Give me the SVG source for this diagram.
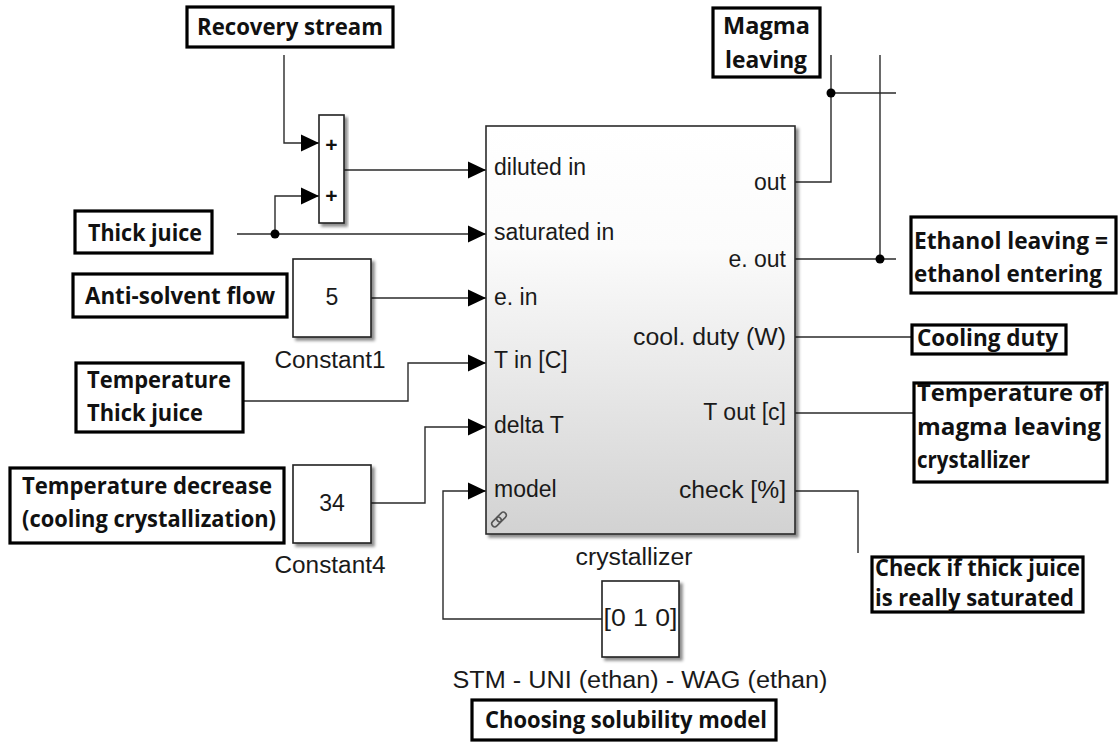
<svg xmlns="http://www.w3.org/2000/svg" width="1118" height="742" viewBox="0 0 1118 742">
<style>
.lbl{fill:#fff;stroke:#000;stroke-width:3.2}
.lt{font-family:"Open Sans","Noto Sans",sans-serif;font-weight:bold;font-size:23px;fill:#111}
.sb{fill:#fff;stroke:#222;stroke-width:1.6}
.st{font-family:"Liberation Sans",Arial,sans-serif;font-size:23px;fill:#1a1a1a}
.wire{fill:none;stroke:#2a2a2a;stroke-width:1.4}
.arr{marker-end:url(#ah)}
</style>
<defs>
<marker id="ah" markerUnits="userSpaceOnUse" markerWidth="18" markerHeight="18" refX="18" refY="9" orient="auto">
<path d="M0,0.5 L18,9 L0,17.5 z" fill="#000"/>
</marker>
<linearGradient id="grad" x1="0" y1="0" x2="0" y2="1">
<stop offset="0" stop-color="#ffffff"/>
<stop offset="0.3" stop-color="#fbfbfb"/>
<stop offset="1" stop-color="#d2d2d2"/>
</linearGradient>
<filter id="sh" x="-10%" y="-10%" width="130%" height="130%">
<feDropShadow dx="3" dy="3" stdDeviation="1.8" flood-color="#000" flood-opacity="0.45"/>
</filter>
</defs>
<rect width="1118" height="742" fill="#fff"/>

<g id="connectors">
<path class="wire arr" d="M284,55 V143 H319"/>
<path class="wire arr" d="M237,234 H486"/>
<path class="wire arr" d="M275,234 V196 H319"/>
<circle cx="275" cy="234" r="4.5" fill="#000"/>
<path class="wire arr" d="M344,170 H486"/>
<path class="wire arr" d="M371,298 H486"/>
<path class="wire arr" d="M243,401 H408 V363 H486"/>
<path class="wire arr" d="M371,503 H425 V427 H486"/>
<path class="wire arr" d="M602,619 H443 V491 H486"/>
<path class="wire" d="M795,182 H831 V55"/>
<path class="wire" d="M831,93 H896"/>
<circle cx="831" cy="93" r="4.5" fill="#000"/>
<path class="wire" d="M795,259 H896"/>
<path class="wire" d="M880,55 V259"/>
<circle cx="880" cy="259" r="4.5" fill="#000"/>
<path class="wire" d="M795,337 H912"/>
<path class="wire" d="M795,413 H914"/>
<path class="wire" d="M795,491 H858 V553"/>
</g>

<g id="recovery-stream">
<rect class="lbl" x="187" y="7" width="206" height="40"/>
<text class="lt" x="197" y="35" textLength="186" lengthAdjust="spacingAndGlyphs">Recovery stream</text>
</g>

<g id="sum">
<rect class="sb" x="319" y="115" width="25" height="108" filter="url(#sh)"/>
<text x="331.5" y="152" text-anchor="middle" font-family="Liberation Sans, Arial, sans-serif" font-weight="bold" font-size="21" fill="#111">+</text>
<text x="331.5" y="203" text-anchor="middle" font-family="Liberation Sans, Arial, sans-serif" font-weight="bold" font-size="21" fill="#111">+</text>
</g>

<g id="thick-juice">
<rect class="lbl" x="75" y="211" width="137" height="42"/>
<text class="lt" x="88" y="241" textLength="114" lengthAdjust="spacingAndGlyphs">Thick juice</text>
</g>

<g id="anti-solvent">
<rect class="lbl" x="73" y="274" width="214" height="43"/>
<text class="lt" x="85" y="304" textLength="190" lengthAdjust="spacingAndGlyphs">Anti-solvent flow</text>
</g>

<g id="constant1">
<rect class="sb" x="293" y="259" width="78" height="78" filter="url(#sh)"/>
<text class="st" x="332" y="305" text-anchor="middle" font-size="24">5</text>
<text class="st" x="330" y="368" text-anchor="middle" textLength="111" lengthAdjust="spacingAndGlyphs">Constant1</text>
</g>

<g id="temp-thick-juice">
<rect class="lbl" x="76" y="363" width="167" height="69"/>
<text class="lt" x="87" y="388" textLength="144" lengthAdjust="spacingAndGlyphs">Temperature</text>
<text class="lt" x="87" y="421" textLength="116" lengthAdjust="spacingAndGlyphs">Thick juice</text>
</g>

<g id="temp-decrease">
<rect class="lbl" x="10" y="468" width="274" height="75"/>
<text class="lt" x="22" y="494" textLength="250" lengthAdjust="spacingAndGlyphs">Temperature decrease</text>
<text class="lt" x="22" y="527" textLength="254" lengthAdjust="spacingAndGlyphs">(cooling crystallization)</text>
</g>

<g id="constant4">
<rect class="sb" x="293" y="465" width="78" height="78" filter="url(#sh)"/>
<text class="st" x="332" y="511" text-anchor="middle" font-size="24">34</text>
<text class="st" x="330" y="573" text-anchor="middle" textLength="111" lengthAdjust="spacingAndGlyphs">Constant4</text>
</g>

<g id="crystallizer">
<rect x="486" y="126" width="309" height="408" fill="url(#grad)" stroke="#2a2a2a" stroke-width="1.6" filter="url(#sh)"/>
<text class="st" x="494" y="175">diluted in</text>
<text class="st" x="494" y="240">saturated in</text>
<text class="st" x="494" y="305">e. in</text>
<text class="st" x="494" y="368">T in [C]</text>
<text class="st" x="494" y="433">delta T</text>
<text class="st" x="494" y="497">model</text>
<text class="st" x="786" y="190" text-anchor="end">out</text>
<text class="st" x="786" y="267" text-anchor="end">e. out</text>
<text class="st" x="786" y="345" text-anchor="end" textLength="153" lengthAdjust="spacingAndGlyphs">cool. duty (W)</text>
<text class="st" x="786" y="420" text-anchor="end">T out [c]</text>
<text class="st" x="786" y="498" text-anchor="end" textLength="107" lengthAdjust="spacingAndGlyphs">check [%]</text>
<g fill="none" stroke="#555" stroke-width="1.5">
<rect x="496" y="514" width="11" height="6" rx="3" transform="rotate(-45 501.5 517)"/>
<rect x="491" y="519" width="11" height="6" rx="3" transform="rotate(-45 496.5 522)"/>
</g>
<text class="st" x="634" y="565" text-anchor="middle" textLength="117" lengthAdjust="spacingAndGlyphs">crystallizer</text>
</g>

<g id="model-constant">
<rect class="sb" x="602" y="581" width="77" height="76" filter="url(#sh)"/>
<text class="st" x="640.5" y="626" text-anchor="middle" font-size="24" textLength="74" lengthAdjust="spacingAndGlyphs">[0 1 0]</text>
<text class="st" x="640" y="688" text-anchor="middle" textLength="375" lengthAdjust="spacingAndGlyphs">STM - UNI (ethan) - WAG (ethan)</text>
</g>

<g id="choosing-model">
<rect class="lbl" x="472" y="700" width="304" height="40"/>
<text class="lt" x="485" y="728" textLength="282" lengthAdjust="spacingAndGlyphs">Choosing solubility model</text>
</g>

<g id="magma-leaving">
<rect class="lbl" x="713" y="8" width="107" height="69"/>
<text class="lt" x="723" y="34" textLength="87" lengthAdjust="spacingAndGlyphs">Magma</text>
<text class="lt" x="725" y="68" textLength="82" lengthAdjust="spacingAndGlyphs">leaving</text>
</g>

<g id="ethanol-leaving">
<rect class="lbl" x="911" y="217" width="205" height="76"/>
<text class="lt" x="914" y="249" textLength="194" lengthAdjust="spacingAndGlyphs">Ethanol leaving =</text>
<text class="lt" x="914" y="282" textLength="188" lengthAdjust="spacingAndGlyphs">ethanol entering</text>
</g>

<g id="cooling-duty">
<rect class="lbl" x="912" y="325" width="154" height="29"/>
<text class="lt" x="917" y="346" textLength="141" lengthAdjust="spacingAndGlyphs">Cooling duty</text>
</g>

<g id="temp-magma">
<rect class="lbl" x="914" y="383" width="193" height="99"/>
<text class="lt" x="917" y="401" textLength="186" lengthAdjust="spacingAndGlyphs">Temperature of</text>
<text class="lt" x="917" y="435" textLength="184" lengthAdjust="spacingAndGlyphs">magma leaving</text>
<text class="lt" x="917" y="468" textLength="113" lengthAdjust="spacingAndGlyphs">crystallizer</text>
</g>

<g id="check-saturated">
<rect class="lbl" x="872" y="557" width="211" height="55"/>
<text class="lt" x="875" y="576" textLength="205" lengthAdjust="spacingAndGlyphs">Check if thick juice</text>
<text class="lt" x="875" y="606" textLength="199" lengthAdjust="spacingAndGlyphs">is really saturated</text>
</g>
</svg>
